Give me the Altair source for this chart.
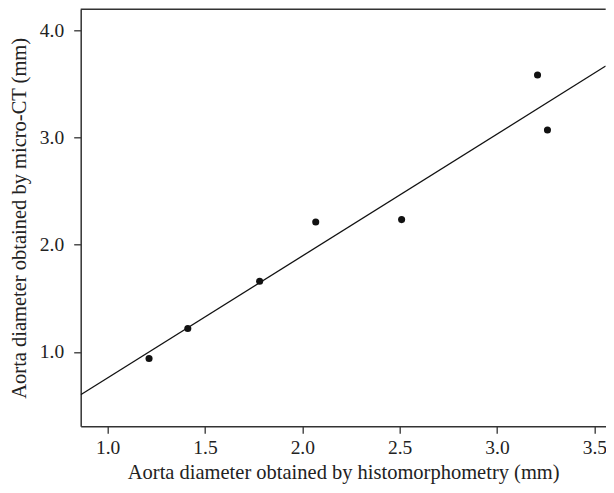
import altair as alt
import pandas as pd

histo = [1.213, 1.412, 1.781, 2.069, 2.510, 3.208, 3.259]
micro_ct = [0.938, 1.218, 1.659, 2.211, 2.233, 3.581, 3.068]

x_ticks = [1.0, 1.5, 2.0, 2.5, 3.0, 3.5]
y_ticks = [1.0, 2.0, 3.0, 4.0]
x_domain = [0.862, 3.558]
y_domain = [0.307, 4.193]

df = pd.DataFrame({"x": histo, "y": micro_ct})

W = 525
H = 417
FONT = "Liberation Serif"

xs = alt.Scale(domain=x_domain, nice=False, zero=False)
ys = alt.Scale(domain=y_domain, nice=False, zero=False)

xaxis = alt.Axis(values=x_ticks, format=".1f", grid=False,
                 title="Aorta diameter obtained by histomorphometry (mm)",
                 domainColor="#333333", domainWidth=1.5, tickColor="#333333",
                 tickWidth=1.3, tickSize=7, labelPadding=5, labelFontSize=19.5,
                 labelFont=FONT, labelColor="#222222", titleFont=FONT,
                 titleFontSize=20.5, titleFontWeight="normal", titleColor="#222222",
                 titlePadding=6)
yaxis = alt.Axis(values=y_ticks, format=".1f", grid=False,
                 title="Aorta diameter obtained by micro-CT (mm)",
                 domainColor="#333333", domainWidth=1.5, tickColor="#333333",
                 tickWidth=1.3, tickSize=7, labelPadding=10, labelFontSize=19.5,
                 labelFont=FONT, labelColor="#222222", titleFont=FONT,
                 titleFontSize=20.5, titleFontWeight="normal", titleColor="#222222",
                 titlePadding=9.5)

base = alt.Chart(df)

points = base.mark_circle(size=50, color="#111111", opacity=1).encode(
    x=alt.X("x:Q", scale=xs, axis=xaxis),
    y=alt.Y("y:Q", scale=ys, axis=yaxis),
)

line = base.transform_regression("x", "y", extent=x_domain).mark_line(
    color="#111111", strokeWidth=1.3, clip=True
).encode(
    x=alt.X("x:Q", scale=xs),
    y=alt.Y("y:Q", scale=ys),
)

top = alt.Chart(pd.DataFrame({"a": [0]})).mark_rule(
    color="#333333", strokeWidth=1.5
).encode(x=alt.value(0), x2=alt.value(W), y=alt.value(0))

chart = alt.layer(line, points, top).properties(
    width=W, height=H,
    autosize=alt.AutoSizeParams(type="none"),
    padding={"left": 72.7, "top": 1.3, "right": 0, "bottom": 58.5},
).configure_view(stroke=None)

chart.save("out.html", embed_options={"renderer": "svg", "actions": False})
